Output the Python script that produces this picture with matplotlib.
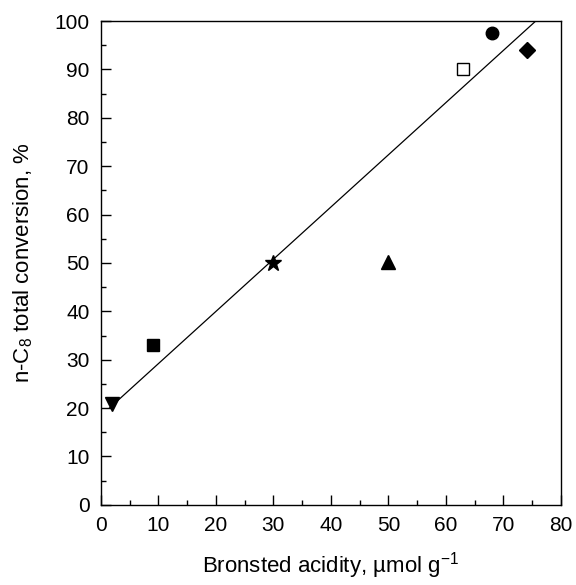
import matplotlib
matplotlib.use('Agg')
import matplotlib.pyplot as plt
from matplotlib.ticker import MultipleLocator

plt.rcParams['font.family'] = ['Liberation Sans', 'DejaVu Sans']
plt.rcParams['mathtext.fontset'] = 'custom'
plt.rcParams['mathtext.rm'] = 'Liberation Sans'
plt.rcParams['mathtext.it'] = 'Liberation Sans:italic'

# Bronsted acidity (umol/g) vs n-C8 total conversion (%), one marker per sample
x_tri_down, y_tri_down = [2], [20.8]
x_square, y_square = [9], [33]
x_star, y_star = [30], [50]
x_tri_up, y_tri_up = [50], [50.2]
x_open_sq, y_open_sq = [63], [90]
x_circle, y_circle = [68], [97.6]
x_diamond, y_diamond = [74], [94]

# fitted line end points
x_fit = [1.5, 75.6]
y_fit = [20.0, 100]

fig = plt.figure(figsize=(5.76, 5.85), dpi=100)
ax = fig.add_axes([0.175, 0.137, 0.799, 0.827])

ax.plot(x_fit, y_fit, '-', color='black', lw=0.9)
ax.plot(x_tri_down, y_tri_down, 'v', color='black', ms=10)
ax.plot(x_square, y_square, 's', color='black', ms=8)
ax.plot(x_star, y_star, '*', color='black', ms=12)
ax.plot(x_tri_up, y_tri_up, '^', color='black', ms=9.5)
ax.plot(x_open_sq, y_open_sq, 's', mfc='white', mec='black', mew=1, ms=8)
ax.plot(x_circle, y_circle, 'o', color='black', ms=9)
ax.plot(x_diamond, y_diamond, 'D', color='black', ms=8)

ax.set_xlim([0, 80])
ax.set_ylim([0, 100])
ax.xaxis.set_major_locator(MultipleLocator(10))
ax.xaxis.set_minor_locator(MultipleLocator(5))
ax.yaxis.set_major_locator(MultipleLocator(10))
ax.yaxis.set_minor_locator(MultipleLocator(5))
ax.tick_params(which='both', direction='in', top=False, right=False, labelsize=15, width=1)
ax.tick_params(which='major', length=7.5, pad=8)
ax.tick_params(which='minor', length=3.6)
for s in ax.spines.values():
    s.set_linewidth(1)

ax.set_xlabel('Bronsted acidity, µmol g$^{-1}$', fontsize=16, labelpad=11)
ax.set_ylabel('n-C$_8$ total conversion, %', fontsize=16, labelpad=14)

fig.savefig('out.png', dpi=100)
